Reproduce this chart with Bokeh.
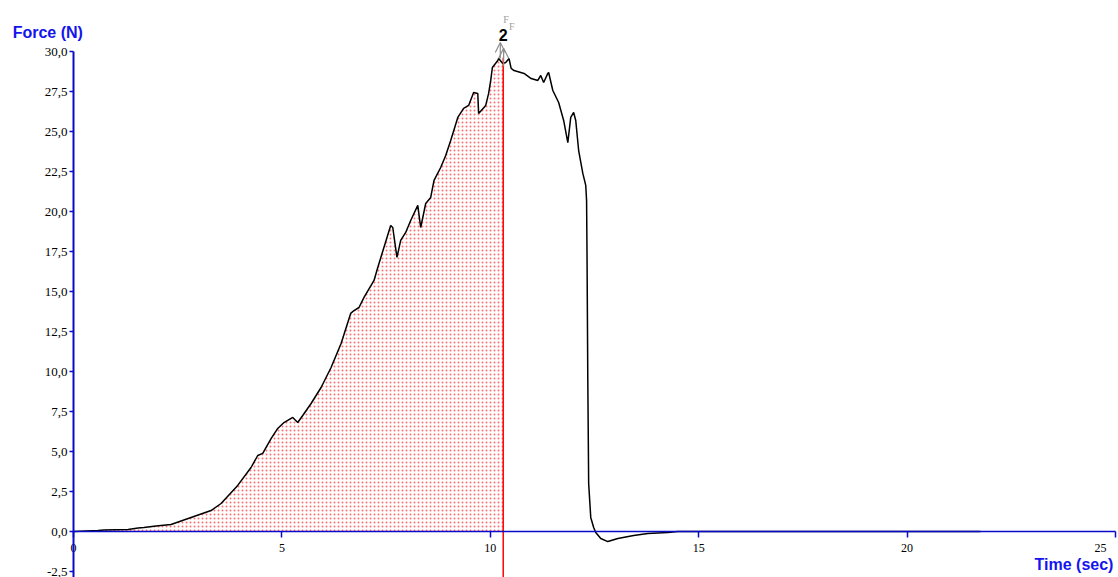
import numpy as np
from bokeh.plotting import figure
from bokeh.models import Range1d, FixedTicker, Label, Arrow, OpenHead
from bokeh.embed import file_html
from bokeh.resources import INLINE

# Force measurement over time
time_s = [0, 0.59, 0.73, 1.31, 1.55, 1.69, 1.98, 2.34, 2.82, 3.30, 3.54, 3.94, 4.26, 4.42,
          4.54, 4.74, 4.90, 5.05, 5.26, 5.38, 5.50, 5.70, 5.94, 6.18, 6.42, 6.65, 6.73, 6.85,
          6.97, 7.21, 7.30, 7.61, 7.66, 7.76, 7.85, 7.97, 8.09, 8.26, 8.33, 8.45, 8.57, 8.65,
          8.81, 8.93, 9.05, 9.22, 9.36, 9.48, 9.60, 9.70, 9.72, 9.89, 9.96, 10.01, 10.05,
          10.18, 10.20, 10.30, 10.37, 10.45, 10.50, 10.57, 10.81, 10.98, 11.14, 11.21, 11.28,
          11.38, 11.40, 11.50, 11.64, 11.76, 11.86, 11.93, 12.00, 12.05, 12.12, 12.22, 12.29,
          12.31, 12.32, 12.34, 12.36, 12.41, 12.48, 12.53, 12.65, 12.82, 13.06, 13.44, 13.78,
          14.26, 14.50, 21.76]
force_n = [0, 0.06, 0.09, 0.13, 0.22, 0.25, 0.34, 0.44, 0.88, 1.31, 1.75, 2.88, 4.0, 4.75,
           4.88, 5.81, 6.44, 6.81, 7.13, 6.81, 7.25, 8.0, 9.0, 10.25, 11.75, 13.63, 13.81, 14.0,
           14.63, 15.69, 16.5, 19.13, 19.0, 17.13, 18.19, 18.69, 19.44, 20.38, 19.0, 20.5, 20.88,
           21.94, 22.75, 23.5, 24.44, 25.88, 26.44, 26.63, 27.44, 27.38, 26.13, 26.63, 27.38,
           28.19, 29.0, 29.44, 29.56, 29.25, 29.31, 29.56, 28.94, 28.81, 28.63, 28.31, 28.19,
           28.5, 28.06, 28.63, 28.69, 27.56, 26.81, 25.69, 24.31, 25.88, 26.19, 25.69, 23.81,
           22.38, 21.63, 20.69, 17.56, 9.25, 3.0, 0.88, 0.25, -0.06, -0.44, -0.63, -0.44, -0.25,
           -0.13, -0.06, 0.0, 0.0]

# Cursor marker (peak) position
marker_time = 10.31
marker_label = "2"

x_ticks = [0, 5, 10, 15, 20, 25]
x_tick_labels = ["0", "5", "10", "15", "20", "25\u00a0\u00a0\u00a0\u00a0"]
y_ticks = [-2.5, 0, 2.5, 5, 7.5, 10, 12.5, 15, 17.5, 20, 22.5, 25, 27.5, 30]
y_tick_labels = ["-2,5", "0,0", "2,5", "5,0", "7,5", "10,0", "12,5", "15,0", "17,5",
                 "20,0", "22,5", "25,0", "27,5", "30,0"]

AXIS_BLUE = "#0a0acc"
TEXT_BLUE = "#1414ee"

# The frame fills the whole canvas; both axes are pinned at zero
x_lo, x_hi = -1.7515, 25.072
y_lo, y_hi = -2.875, 33.1875
p = figure(width=1118, height=577, output_backend="svg", toolbar_location=None,
           x_range=Range1d(x_lo, x_hi), y_range=Range1d(y_lo, y_hi),
           min_border_left=0, min_border_right=0, min_border_top=0, min_border_bottom=0)
p.outline_line_color = None
p.xgrid.visible = False
p.ygrid.visible = False
p.background_fill_color = "white"
p.border_fill_color = "white"

xa = p.xaxis[0]
xa.fixed_location = 0
xa.bounds = (0, 25)
xa.ticker = FixedTicker(ticks=x_ticks)
xa.major_label_overrides = {float(t): s for t, s in zip(x_ticks, x_tick_labels)}
xa.minor_tick_line_color = None
xa.axis_line_color = AXIS_BLUE
xa.axis_line_width = 1.5
xa.major_tick_line_color = AXIS_BLUE
xa.major_tick_line_width = 1.5
xa.major_tick_in = 0
xa.major_tick_out = 6
xa.major_label_standoff = 3
xa.major_label_text_font = "Liberation Serif"
xa.major_label_text_font_size = "12px"
xa.major_label_text_color = "black"

ya = p.yaxis[0]
ya.fixed_location = 0
ya.bounds = (y_lo - 0.5, 30)
ya.ticker = FixedTicker(ticks=y_ticks)
ya.major_label_overrides = {float(t): s for t, s in zip(y_ticks, y_tick_labels)}
ya.minor_tick_line_color = None
ya.axis_line_color = AXIS_BLUE
ya.axis_line_width = 2
ya.major_tick_line_color = AXIS_BLUE
ya.major_tick_line_width = 1.5
ya.major_tick_in = 0
ya.major_tick_out = 4
ya.major_label_standoff = 2
ya.major_label_text_font = "Liberation Serif"
ya.major_label_text_font_size = "13px"
ya.major_label_text_color = "black"

t = np.array(time_s)
f = np.array(force_n)

# Dotted area under the curve up to the marker
marker_force = float(np.interp(marker_time, t, f))
mask = t <= marker_time
fill_t = np.append(t[mask], marker_time)
fill_f = np.append(f[mask], marker_force)
p.varea(x=fill_t, y1=np.zeros_like(fill_t), y2=fill_f, fill_color=None, fill_alpha=0,
        hatch_pattern="dot", hatch_color="#ff3030", hatch_scale=4, hatch_weight=1.2,
        hatch_alpha=0.7)

# Force curve
p.line(t, f, line_color="black", line_width=1.5)

# Marker line
p.segment(x0=[marker_time], y0=[y_lo - 1], x1=[marker_time], y1=[marker_force + 0.35],
          line_color="#ff0000", line_width=1.5)

# Marker arrows and labels
arrow_color = "#8c8c8c"
p.add_layout(Arrow(end=OpenHead(size=10, line_color=arrow_color, line_width=1.2),
                   x_start=marker_time - 0.07, y_start=marker_force + 0.3,
                   x_end=marker_time - 0.07, y_end=marker_force + 1.3,
                   line_color=arrow_color, line_width=1.2))
p.add_layout(Arrow(end=OpenHead(size=10, line_color=arrow_color, line_width=1.2),
                   x_start=marker_time + 0.01, y_start=marker_force - 0.2,
                   x_end=marker_time + 0.01, y_end=marker_force + 0.95,
                   line_color=arrow_color, line_width=1.2))
p.add_layout(Label(x=marker_time, y=marker_force + 1.75, text=marker_label,
                   text_font="Liberation Sans", text_font_style="bold", text_font_size="16px",
                   text_color="black", text_align="center", text_baseline="middle"))
p.add_layout(Label(x=marker_time + 0.0, y=marker_force + 2.75, text="F",
                   text_font="Liberation Serif", text_font_size="10px",
                   text_color="#a0a0a0", text_align="left", text_baseline="middle"))
p.add_layout(Label(x=marker_time + 0.14, y=marker_force + 2.3, text="F",
                   text_font="Liberation Serif", text_font_size="10px",
                   text_color="#a0a0a0", text_align="left", text_baseline="middle"))

# Axis titles
p.add_layout(Label(x=-1.46, y=31.2, text="Force (N)", text_font="Liberation Sans",
                   text_font_style="bold", text_font_size="16px", text_color=TEXT_BLUE,
                   text_align="left", text_baseline="middle"))
p.add_layout(Label(x=24.95, y=-2.07, text="Time (sec)", text_font="Liberation Sans",
                   text_font_style="bold", text_font_size="16px", text_color=TEXT_BLUE,
                   text_align="right", text_baseline="middle"))

open("out.html", "w").write(file_html(p, INLINE))
